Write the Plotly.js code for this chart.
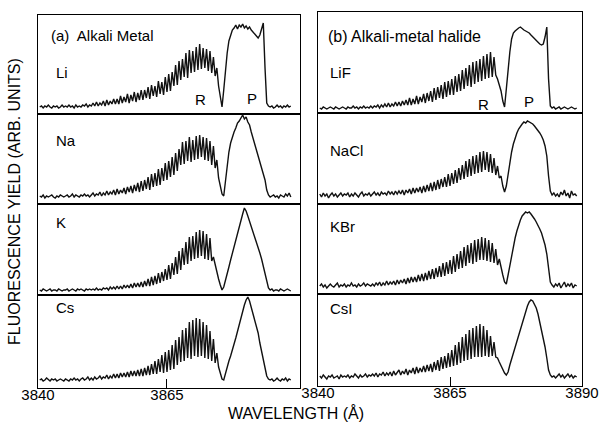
<!DOCTYPE html>
<html>
<head>
<meta charset="utf-8">
<script src="https://cdn.plot.ly/plotly-3.0.1.min.js"></script>
<style>html,body{margin:0;padding:0;background:#fff;}#chart{width:600px;height:422px;}</style>
</head>
<body>
<div id="chart"></div>
<script>
// Wavelength sampling (Å): first sample and spacing
const wavelengthStart = 3840 + 1/3;
const wavelengthStep = 1/3;

// (a) Alkali metal spectra (arb. units, baseline = 0)
const yLi = [
1,2,0,2,1,3,1,0,2,1,2,0,1,3,1,
2,1,3,1,2,0,3,1,2,1,3,2,4,1,3,
2,5,2,6,2,5,3,7,2,8,3,7,4,9,4,
9,4,12,5,11,6,14,5,13,7,16,6,15,8,18,
8,18,10,21,9,23,12,22,11,27,14,26,13,31,16,
34,17,36,22,43,23,47,28,49,31,55,30,58,35,57,
36,61,38,64,39,60,40,59,37,57,35,51,32,40,22,
10,1,18,38,55,67,74,78,80,83,79,83,81,84,80,
82,79,81,78,76,74,72,70,73,80,85,40,5,2,1,
2,0,1,3,1,2,0,2,1,3,1,2];
const yNa = [
2,1,3,0,2,1,2,3,1,0,2,1,3,2,1,
2,3,1,2,4,1,3,2,1,3,2,4,2,3,1,
3,5,2,4,3,6,2,5,3,7,3,6,4,8,3,
9,4,8,5,10,4,11,6,12,5,13,7,15,6,17,
7,18,9,21,8,24,11,25,12,29,13,30,17,35,18,
37,21,41,23,45,27,49,33,56,34,57,37,61,36,58,
38,62,39,63,41,61,38,60,37,57,33,52,30,38,20,
12,4,2,18,35,46,55,61,66,70,75,77,80,83,79,
81,76,73,66,59,54,48,42,35,30,24,18,8,3,1,
2,3,1,2,0,3,2,1,4,2,5,1];
const yK = [
1,0,2,1,0,1,2,0,1,1,0,2,1,0,1,
1,2,0,1,2,1,0,2,1,2,1,0,2,1,2,
1,2,1,3,1,2,1,3,2,3,1,4,2,4,2,
5,2,5,2,6,3,6,3,7,3,8,4,8,4,9,
4,10,5,12,5,14,6,15,7,18,8,19,10,22,11,
26,12,28,16,34,17,40,21,43,26,49,27,54,30,55,
32,59,33,61,35,60,32,57,31,53,30,34,26,18,12,
6,1,4,10,17,24,31,38,45,51,58,65,71,77,83,
80,75,70,65,60,55,50,44,38,32,25,18,10,3,1,
2,0,1,1,0,2,1,0,1,2,1,0];
const yCs = [
1,2,0,1,3,1,0,2,1,2,0,1,2,1,0,
2,1,0,2,1,3,1,2,0,2,3,1,2,4,1,
3,1,4,2,3,5,2,4,3,6,2,5,3,7,3,
7,3,8,4,8,4,9,4,10,5,10,5,11,5,12,
5,13,6,15,6,17,7,20,7,22,9,26,8,29,9,
31,11,36,12,41,16,44,19,51,20,53,23,59,22,61,
25,63,24,62,25,59,23,56,22,50,20,42,18,28,14,
7,2,1,8,14,20,25,30,37,43,50,57,63,70,76,
81,84,80,74,67,60,55,48,38,29,21,12,5,2,1,
2,0,1,3,1,0,2,1,3,0,2,1];

// (b) Alkali-metal halide spectra
const yLiF = [
1,0,2,1,0,1,2,1,0,2,1,0,1,2,1,
0,2,1,1,3,1,2,0,2,1,3,1,2,1,3,
1,3,2,4,1,4,2,5,2,6,2,5,3,7,3,
7,3,8,4,9,4,11,4,10,5,13,5,12,7,15,
6,16,8,18,7,21,9,22,11,24,10,27,12,28,14,
30,14,33,17,35,18,39,20,41,23,44,22,47,25,48,
27,50,28,53,30,55,31,57,32,52,34,30,24,18,8,
2,20,42,57,70,76,78,80,81,82,80,79,78,77,76,
74,72,70,68,66,65,64,65,72,82,30,3,1,2,0,
1,2,0,1,2,1,0,1,2,1,0,1];
const yNaCl = [
2,-1,3,0,2,-2,1,3,0,2,-1,1,3,0,2,
1,3,-1,2,0,3,1,-1,2,4,0,2,1,3,0,
2,4,1,3,0,4,2,3,1,5,2,4,1,5,2,
5,2,6,1,6,3,7,2,8,3,8,4,9,3,10,
4,11,5,13,5,14,6,16,7,17,9,19,9,22,10,
23,12,26,13,28,16,31,17,35,19,37,20,40,22,41,
23,44,24,45,26,44,24,42,23,38,21,30,18,20,10,
4,10,22,34,44,52,58,63,67,70,72,74,73,75,74,
73,72,70,68,66,63,60,56,50,40,20,5,1,3,0,
2,-1,4,1,6,0,3,-2,5,1,2,0];
const yKBr = [
1,3,0,2,-1,1,3,1,0,2,4,0,2,1,3,
0,2,1,4,1,2,0,3,1,2,4,1,3,2,1,
3,1,4,2,5,1,4,2,6,2,5,3,6,2,7,
3,7,4,8,3,9,4,10,5,10,5,12,6,13,6,
14,7,16,8,18,8,19,10,21,10,24,11,25,13,27,
13,31,15,33,18,36,19,40,21,42,24,44,23,47,25,
48,27,50,27,49,26,47,25,44,24,38,22,28,18,12,
5,3,12,22,32,41,49,56,62,67,71,73,75,74,75,
73,71,68,65,62,58,54,49,42,33,18,5,2,0,3,
1,4,-1,2,5,0,3,1,4,-1,2,1];
const yCsI = [
2,0,3,1,-1,2,1,3,0,1,2,-1,3,1,2,
1,3,0,2,1,4,2,0,3,1,2,4,1,3,2,
4,2,5,1,4,3,6,2,5,3,6,2,7,3,6,
8,3,7,4,9,3,8,5,10,4,11,5,10,6,12,
6,13,7,14,6,16,8,18,7,21,9,22,10,25,11,
28,12,33,13,36,15,41,17,44,18,48,19,50,21,52,
21,54,21,52,22,48,21,42,22,36,21,20,16,12,8,
5,3,6,13,19,24,29,35,41,48,55,61,67,72,76,
78,77,74,70,64,56,47,38,31,20,8,3,1,2,0,
2,4,1,3,0,2,4,1,3,0,2,1];

// Labels
const panelTitles = ["(a)  Alkali Metal", "(b) Alkali-metal halide"];
const leftNames = ["Li", "Na", "K", "Cs"];
const rightNames = ["LiF", "NaCl", "KBr", "CsI"];
const leftTicks = [3840, 3865];
const rightTicks = [3840, 3865, 3890];
const xTitle = "WAVELENGTH (Å)";
const yTitle = "FLUORESCENCE YIELD (ARB. UNITS)";

const series = [yLi, yNa, yK, yCs, yLiF, yNaCl, yKBr, yCsI];

// layout geometry (pixels in a 600x422 canvas)
const W = 600, H = 422;
const leftX = [38, 300], rightX = [318, 582];
const leftRows = [[15,114],[114,204],[204,295],[295,388]];
const rightRows = [[12,113],[113,204],[204,294],[294,386]];
const baselines = [108,198,291,381, 109,196,287,378];
const leftRange = [3840, 3890.78], rightRange = [3840, 3890];

const fx = p => p / W, fy = p => 1 - p / H;
const FONT = 'Liberation Sans, Arial, sans-serif';

const traces = [];
const layout = {
  width: W, height: H,
  margin: {l:0, r:0, t:0, b:0},
  paper_bgcolor: '#fff', plot_bgcolor: '#fff',
  showlegend: false,
  font: {family: FONT, color: '#000'},
  annotations: []
};

series.forEach((ys, k) => {
  const xs = ys.map((_, i) => wavelengthStart + i * wavelengthStep);
  const n = k + 1;
  const suf = n === 1 ? '' : String(n);
  traces.push({
    x: xs, y: ys, type: 'scatter', mode: 'lines',
    line: {color: '#111', width: 1.4},
    xaxis: 'x' + suf, yaxis: 'y' + suf, hoverinfo: 'skip'
  });
  const isLeft = k < 4;
  const row = isLeft ? leftRows[k] : rightRows[k - 4];
  const cols = isLeft ? leftX : rightX;
  const bottom = (k % 4) === 3;
  const base = baselines[k];
  layout['xaxis' + suf] = {
    domain: [fx(cols[0]), fx(cols[1])],
    range: isLeft ? leftRange : rightRange,
    anchor: 'y' + suf,
    showline: true, mirror: true, linecolor: '#000', linewidth: 1,
    showgrid: false, zeroline: false,
    ticks: bottom ? 'inside' : '', ticklen: 9, tickcolor: '#000', tickwidth: 1,
    tickvals: isLeft ? leftTicks : rightTicks,
    ticktext: (isLeft ? leftTicks : rightTicks).map(String),
    showticklabels: bottom,
    ticklabelstandoff: -7,
    tickfont: {size: 15, family: FONT, color: '#000'}
  };
  layout['yaxis' + suf] = {
    domain: [fy(row[1]), fy(row[0])],
    range: [base - row[1], base - row[0]],
    anchor: 'x' + suf,
    showline: true, mirror: true, linecolor: '#000', linewidth: 1,
    showgrid: false, zeroline: false, ticks: '', showticklabels: false
  };
});

function note(text, px, py, size, opts) {
  layout.annotations.push(Object.assign({
    text: text, xref: 'paper', yref: 'paper', x: fx(px), y: fy(py),
    xanchor: 'left', yanchor: 'middle', showarrow: false,
    font: {size: size, color: '#000', family: FONT}
  }, opts || {}));
}

note(panelTitles[0], 49, 35, 15);
note(panelTitles[1], 326, 37, 16);
const leftNameY = [72, 140, 222, 307];
const rightNameY = [72, 150, 226, 308];
leftNames.forEach((t, i) => note(t, 54, leftNameY[i], 15));
rightNames.forEach((t, i) => note(t, 328, rightNameY[i], 15));
note('R', 200, 99, 15, {xanchor: 'center'});
note('P', 252, 98, 15, {xanchor: 'center'});
note('R', 483, 104, 15, {xanchor: 'center'});
note('P', 529, 102, 15, {xanchor: 'center'});
note(xTitle, 296, 413, 16, {xanchor: 'center'});
note(yTitle, 15, 202, 16, {xanchor: 'center', textangle: -90});

Plotly.newPlot('chart', traces, layout, {displayModeBar: false, staticPlot: true});
</script>
</body>
</html>
